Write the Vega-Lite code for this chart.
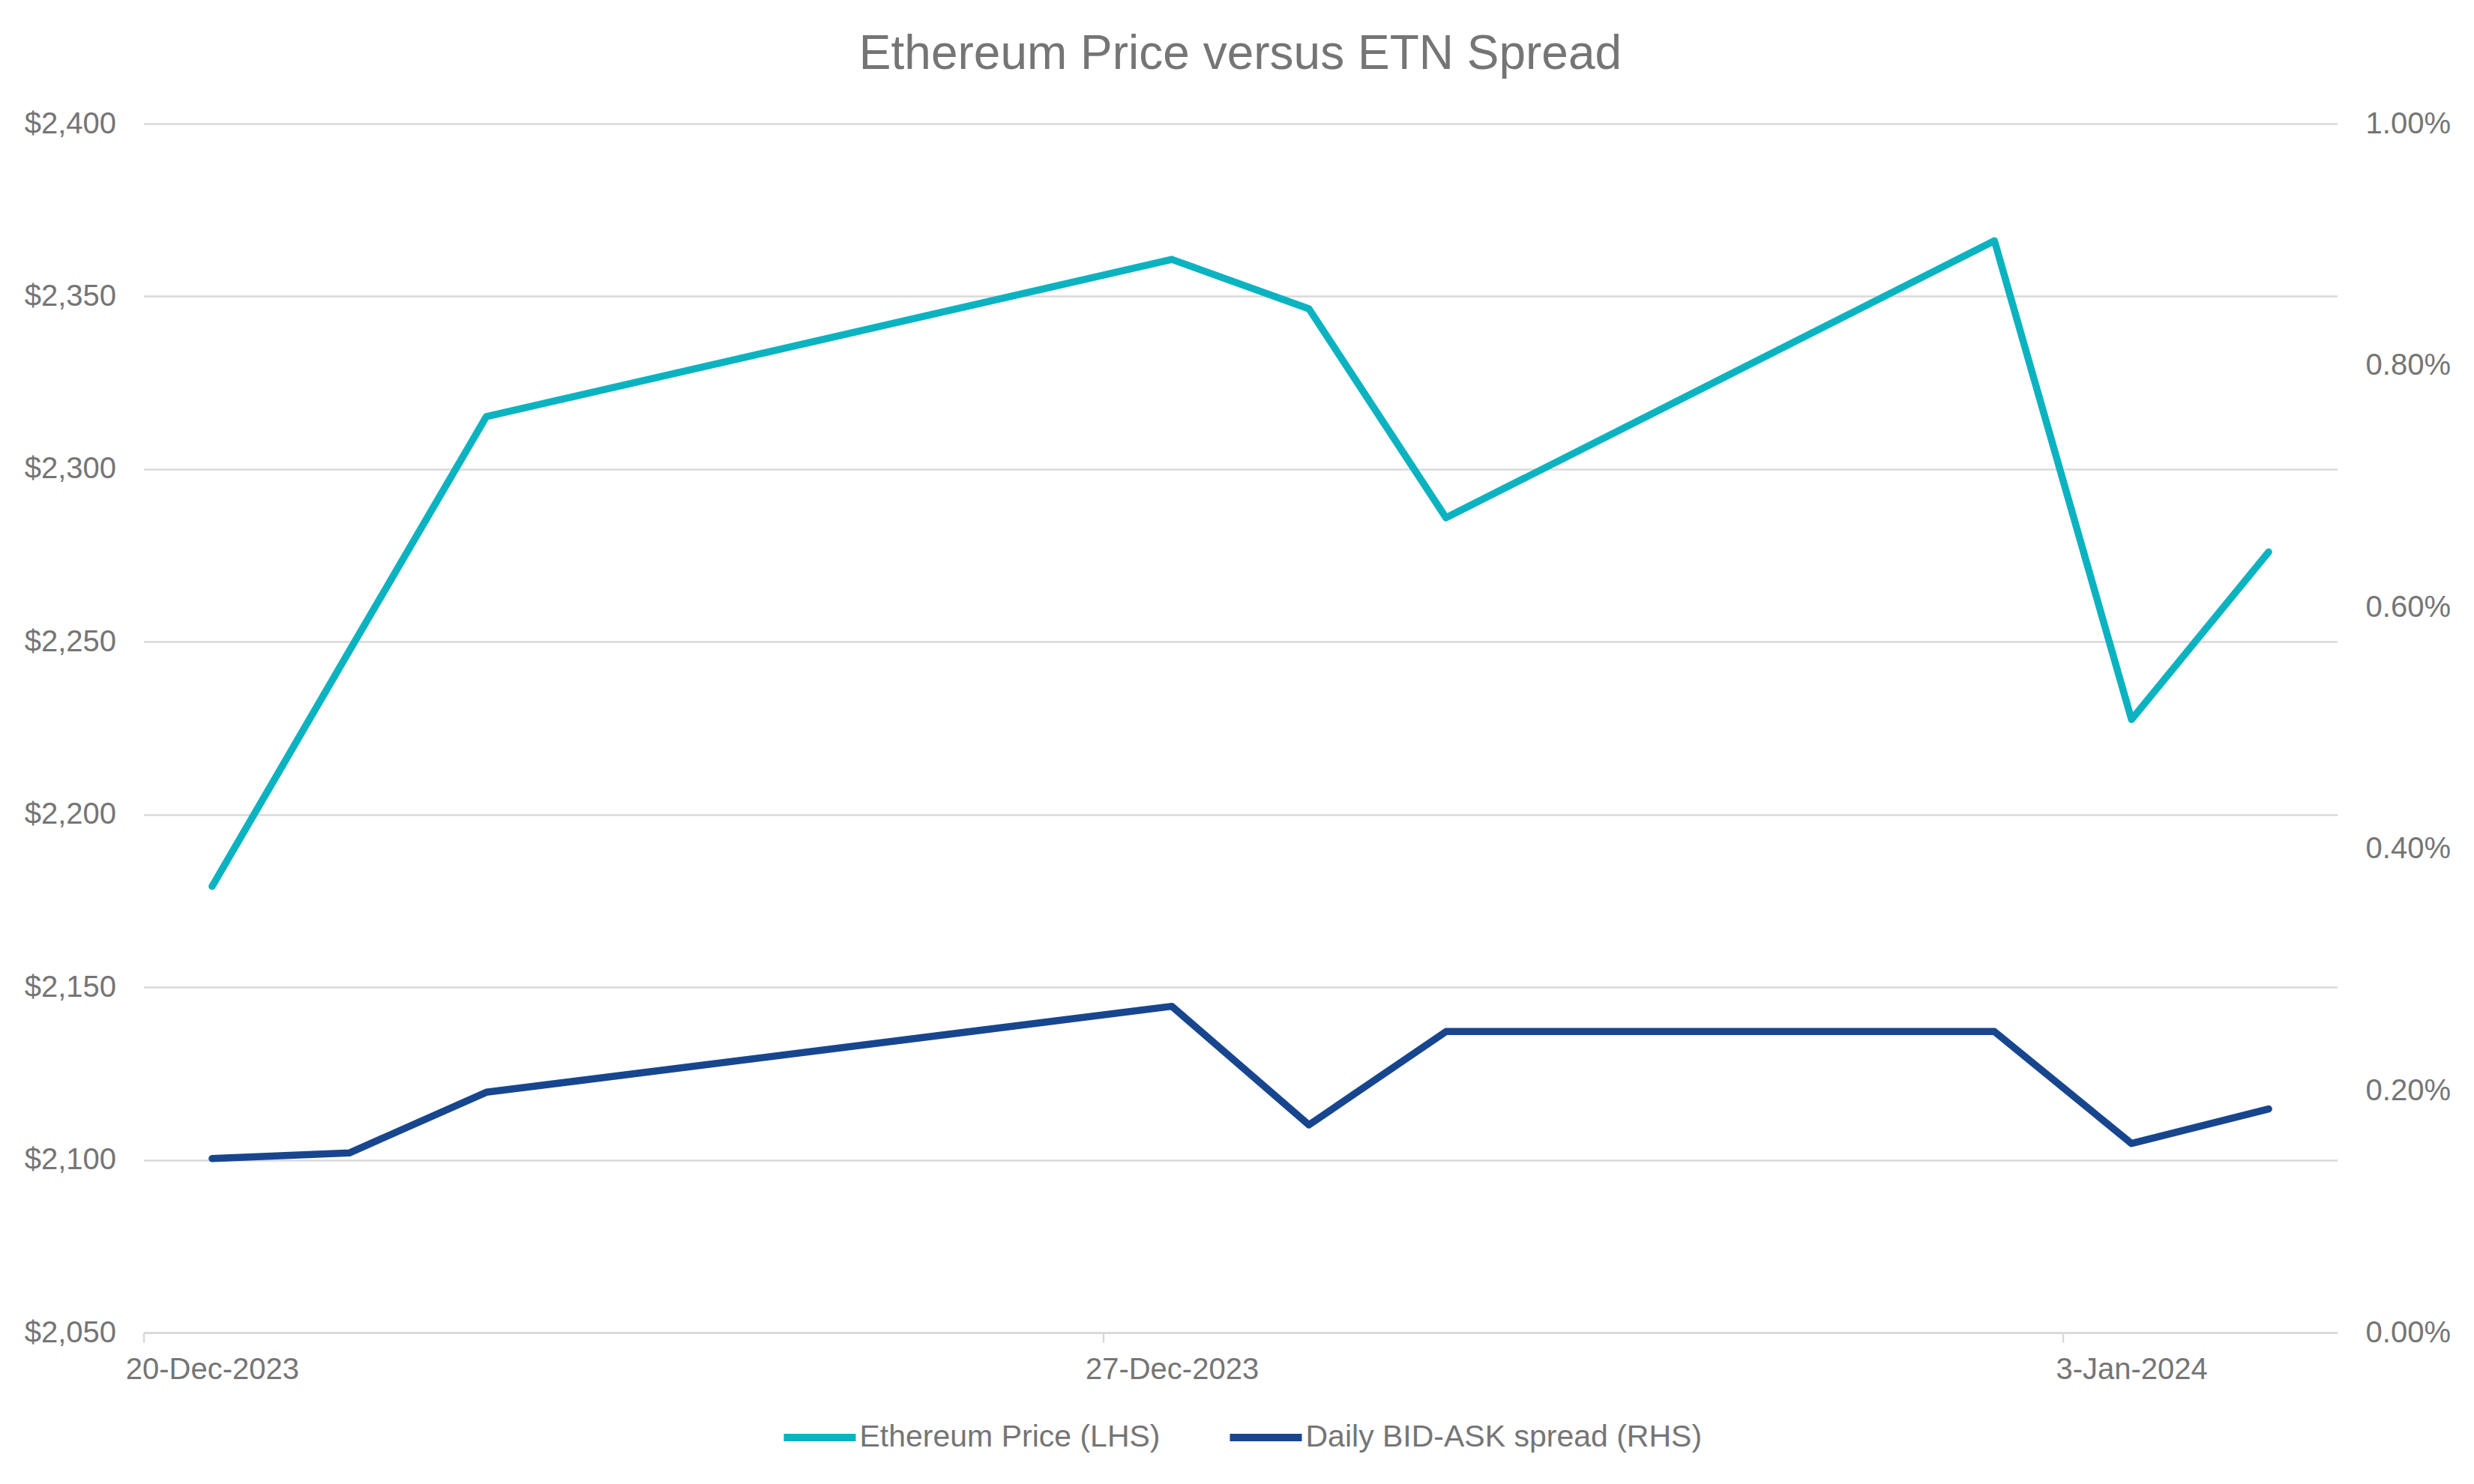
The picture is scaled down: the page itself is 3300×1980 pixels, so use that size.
{
  "$schema": "https://vega.github.io/schema/vega-lite/v6.json",
  "width": 2926,
  "height": 1613,
  "autosize": "none",
  "padding": {"left": 191.5, "top": 165, "right": 182.5, "bottom": 202},
  "background": "white",
  "title": {
    "text": "Ethereum Price versus ETN Spread",
    "font": "Liberation Sans",
    "fontSize": 64,
    "fontWeight": "normal",
    "color": "#757575",
    "anchor": "middle",
    "baseline": "alphabetic",
    "offset": -11
  },
  "config": {
    "view": {"stroke": null},
    "font": "Liberation Sans",
    "axis": {
      "labelFont": "Liberation Sans",
      "labelFontSize": 40,
      "labelColor": "#757575",
      "labelLimit": 0,
      "title": null
    }
  },
  "data": {
    "values": [
      {"date": "2023-12-20", "series": "Ethereum Price (LHS)", "value": 2179.2},
      {"date": "2023-12-21", "series": "Ethereum Price (LHS)", "value": 2247.3},
      {"date": "2023-12-22", "series": "Ethereum Price (LHS)", "value": 2315.2},
      {"date": "2023-12-27", "series": "Ethereum Price (LHS)", "value": 2360.7},
      {"date": "2023-12-28", "series": "Ethereum Price (LHS)", "value": 2346.4},
      {"date": "2023-12-29", "series": "Ethereum Price (LHS)", "value": 2285.9},
      {"date": "2024-01-02", "series": "Ethereum Price (LHS)", "value": 2366.1},
      {"date": "2024-01-03", "series": "Ethereum Price (LHS)", "value": 2227.5},
      {"date": "2024-01-04", "series": "Ethereum Price (LHS)", "value": 2276.0},
      {"date": "2023-12-20", "series": "Daily BID-ASK spread (RHS)", "value": 0.00144},
      {"date": "2023-12-21", "series": "Daily BID-ASK spread (RHS)", "value": 0.001486},
      {"date": "2023-12-22", "series": "Daily BID-ASK spread (RHS)", "value": 0.001988},
      {"date": "2023-12-27", "series": "Daily BID-ASK spread (RHS)", "value": 0.002699},
      {"date": "2023-12-28", "series": "Daily BID-ASK spread (RHS)", "value": 0.001718},
      {"date": "2023-12-29", "series": "Daily BID-ASK spread (RHS)", "value": 0.00249},
      {"date": "2024-01-02", "series": "Daily BID-ASK spread (RHS)", "value": 0.00249},
      {"date": "2024-01-03", "series": "Daily BID-ASK spread (RHS)", "value": 0.001564},
      {"date": "2024-01-04", "series": "Daily BID-ASK spread (RHS)", "value": 0.00185}
    ]
  },
  "encoding": {
    "x": {
      "field": "date",
      "type": "temporal",
      "timeUnit": "utcyearmonthdate",
      "bandPosition": 0.5,
      "scale": {
        "nice": false,
        "domain": [
          {"year": 2023, "month": 12, "date": 20, "utc": true},
          {"year": 2024, "month": 1, "date": 5, "utc": true}
        ]
      },
      "axis": {
        "values": [
          {"year": 2023, "month": 12, "date": 20, "utc": true},
          {"year": 2023, "month": 12, "date": 27, "utc": true},
          {"year": 2024, "month": 1, "date": 3, "utc": true}
        ],
        "labelExpr": "utcFormat(datum.value, '%-d-%b-%Y')",
        "grid": false,
        "domainColor": "#d9d9d9",
        "domainWidth": 2.5,
        "tickColor": "#d9d9d9",
        "tickWidth": 2.5,
        "tickSize": 13,
        "labelOffset": 91.4,
        "labelPadding": 16,
        "labelAlign": "center",
        "labelLimit": 0,
        "labelFlush": false,
        "labelOverlap": false
      }
    },
    "color": {
      "field": "series",
      "type": "nominal",
      "scale": {
        "domain": ["Ethereum Price (LHS)", "Daily BID-ASK spread (RHS)"],
        "range": ["#0BB3C1", "#17468F"]
      },
      "legend": {
        "orient": "none",
        "legendX": 849,
        "legendY": 1700,
        "direction": "horizontal",
        "title": null,
        "symbolType": "stroke",
        "symbolSize": 9216,
        "symbolStrokeWidth": 10,
        "labelFont": "Liberation Sans",
        "labelFontSize": 41,
        "labelColor": "#757575",
        "labelOffset": 0,
        "labelLimit": 0,
        "columnPadding": 72,
        "padding": 0
      }
    }
  },
  "layer": [
    {
      "transform": [{"filter": "datum.series === 'Ethereum Price (LHS)'"}],
      "mark": {"type": "line", "strokeWidth": 9.5, "strokeCap": "round", "strokeJoin": "round"},
      "encoding": {
        "y": {
          "field": "value",
          "type": "quantitative",
          "scale": {"domain": [2050, 2400], "nice": false, "zero": false},
          "axis": {
            "orient": "left",
            "values": [2050, 2100, 2150, 2200, 2250, 2300, 2350, 2400],
            "format": "$,.0f",
            "grid": true,
            "gridColor": "#d9d9d9",
            "gridWidth": 2.5,
            "domain": false,
            "ticks": false,
            "tickSize": 0,
            "labelPadding": 37
          }
        }
      }
    },
    {
      "transform": [{"filter": "datum.series === 'Daily BID-ASK spread (RHS)'"}],
      "mark": {"type": "line", "strokeWidth": 9.5, "strokeCap": "round", "strokeJoin": "round"},
      "encoding": {
        "y": {
          "field": "value",
          "type": "quantitative",
          "scale": {"domain": [0, 0.01], "nice": false},
          "axis": {
            "orient": "right",
            "values": [0, 0.002, 0.004, 0.006, 0.008, 0.01],
            "format": ".2%",
            "grid": false,
            "domain": false,
            "ticks": false,
            "tickSize": 0,
            "labelPadding": 37.6
          }
        }
      }
    }
  ],
  "resolve": {"scale": {"y": "independent"}}
}
